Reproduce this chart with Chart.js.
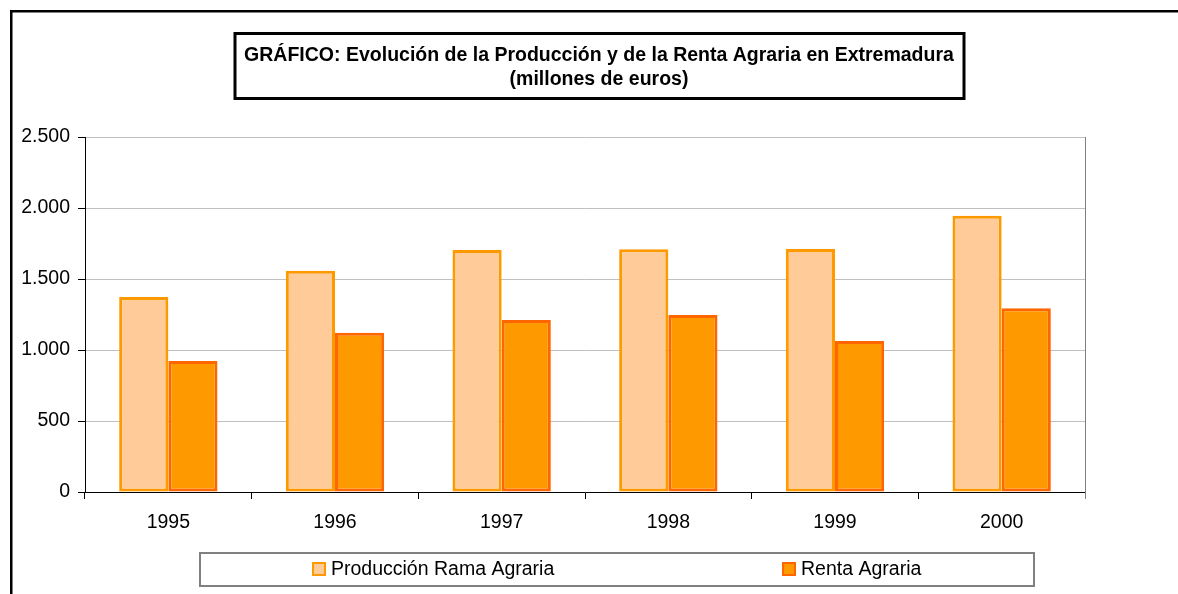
<!DOCTYPE html>
<html>
<head>
<meta charset="utf-8">
<script src="https://cdn.jsdelivr.net/npm/chart.js@4"></script>
<style>
  html, body { margin: 0; padding: 0; background: #fff; }
</style>
</head>
<body>
<canvas id="myChart" width="1178" height="594"></canvas>
<script>
// datos (millones de euros)
var anios = ["1995", "1996", "1997", "1998", "1999", "2000"];
var produccion = [1373, 1558, 1704, 1709, 1711, 1946];
var renta = [922, 1122, 1211, 1246, 1063, 1294];
var ticksY = [0, 500, 1000, 1500, 2000, 2500];
var nombresSeries = ["Producción Rama Agraria", "Renta Agraria"];
var tituloLineas = [
  "GRÁFICO: Evolución de la Producción y de la Renta Agraria en Extremadura",
  "(millones de euros)"
];

var fuente = "'Liberation Sans', Arial, sans-serif";

function formatea(v) {
  return String(v).replace(/\B(?=(\d{3})+(?!\d))/g, ".");
}

// marco exterior, caja del titulo y leyenda
var marcoPlugin = {
  id: "marco",
  beforeDraw: function (chart) {
    var ctx = chart.ctx;
    ctx.save();
    ctx.fillStyle = "#fff";
    ctx.fillRect(0, 0, chart.width, chart.height);
    ctx.restore();
  },
  afterDraw: function (chart) {
    var ctx = chart.ctx;
    var area = chart.chartArea;
    ctx.save();

    // marco exterior
    ctx.strokeStyle = "#000";
    ctx.lineWidth = 2.5;
    ctx.beginPath();
    ctx.moveTo(11.25, chart.height);
    ctx.lineTo(11.25, 11.25);
    ctx.lineTo(chart.width, 11.25);
    ctx.stroke();

    // borde derecho del area de trazado
    ctx.strokeStyle = "#808080";
    ctx.lineWidth = 1;
    ctx.beginPath();
    ctx.moveTo(Math.round(area.right) + 0.5, area.top);
    ctx.lineTo(Math.round(area.right) + 0.5, area.bottom + 7);
    ctx.stroke();

    // caja del titulo
    ctx.strokeStyle = "#000";
    ctx.lineWidth = 3;
    ctx.strokeRect(235, 33.5, 729, 65);
    ctx.fillStyle = "#000";
    ctx.font = "bold 19.5px " + fuente;
    ctx.textAlign = "center";
    ctx.textBaseline = "middle";
    ctx.fillText(tituloLineas[0], 599, 56);
    ctx.fillText(tituloLineas[1], 599, 80);

    // leyenda
    ctx.strokeStyle = "#808080";
    ctx.lineWidth = 2;
    ctx.strokeRect(200, 553, 834, 33);
    var posX = [312, 782];
    ctx.font = "19.5px " + fuente;
    ctx.textAlign = "left";
    chart.data.datasets.forEach(function (ds, i) {
      ctx.fillStyle = ds.backgroundColor;
      ctx.fillRect(posX[i], 562, 14, 14);
      ctx.strokeStyle = ds.borderColor;
      ctx.lineWidth = 2;
      ctx.strokeRect(posX[i] + 1, 563, 12, 12);
      ctx.fillStyle = "#000";
      ctx.fillText(ds.label, posX[i] + 19, 570);
    });

    ctx.restore();
  }
};

var ctx = document.getElementById("myChart").getContext("2d");
var myChart = new Chart(ctx, {
  type: "bar",
  data: {
    labels: anios,
    datasets: [
      {
        label: nombresSeries[0],
        data: produccion,
        backgroundColor: "#FFCC99",
        borderColor: "#FF9900",
        borderWidth: 3,
        borderSkipped: false,
        categoryPercentage: 0.59,
        barPercentage: 1.0
      },
      {
        label: nombresSeries[1],
        data: renta,
        backgroundColor: "#FF9900",
        borderColor: "#FF6600",
        borderWidth: 3,
        borderSkipped: false,
        categoryPercentage: 0.59,
        barPercentage: 1.0
      }
    ]
  },
  options: {
    responsive: false,
    animation: false,
    layout: {
      padding: { top: 137, left: 10, right: 93, bottom: 42 }
    },
    plugins: {
      legend: { display: false },
      title: { display: false },
      tooltip: { enabled: false }
    },
    scales: {
      x: {
        grid: {
          offset: true,
          drawOnChartArea: false,
          tickLength: 7,
          tickColor: "#000"
        },
        border: { color: "#000", width: 1 },
        ticks: {
          color: "#000",
          font: { family: fuente, size: 19.5 },
          padding: 12
        },
        afterFit: function (scale) {
          scale.height = 60;
        }
      },
      y: {
        min: 0,
        max: 2500,
        afterBuildTicks: function (scale) {
          scale.ticks = ticksY.map(function (v) {
            return { value: v };
          });
        },
        ticks: {
          color: "#000",
          font: { family: fuente, size: 19.5 },
          padding: 8,
          callback: function (v) {
            return formatea(v);
          }
        },
        grid: {
          color: "#C0C0C0",
          tickColor: "#000",
          tickLength: 7
        },
        border: { color: "#000", width: 1 },
        afterFit: function (scale) {
          scale.width = 75;
        }
      }
    }
  },
  plugins: [marcoPlugin]
});
</script>
</body>
</html>
